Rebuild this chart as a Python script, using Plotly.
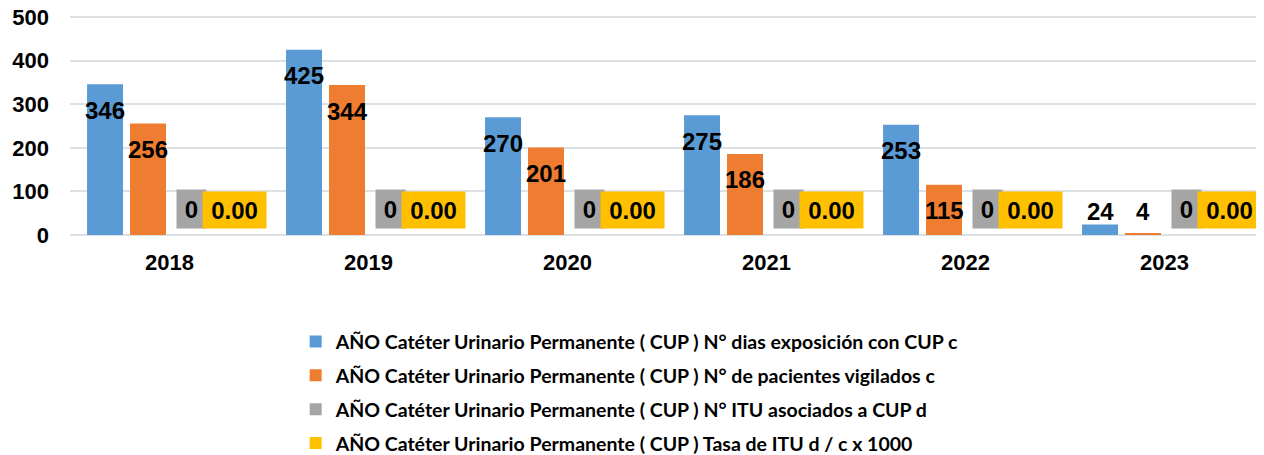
import plotly.graph_objects as go

# Datos
anios = ["2018", "2019", "2020", "2021", "2022", "2023"]
dias_exposicion = [346, 425, 270, 275, 253, 24]
pacientes_vigilados = [256, 344, 201, 186, 115, 4]
itu_asociados = [0, 0, 0, 0, 0, 0]
tasa_itu = [0.0, 0.0, 0.0, 0.0, 0.0, 0.0]
ticks_y = [0, 100, 200, 300, 400, 500]

prefijo = "AÑO Catéter Urinario Permanente ( CUP ) "
nombres = [
    prefijo + "N° dias exposición con CUP c",
    prefijo + "N° de pacientes vigilados c",
    prefijo + "N° ITU asociados a CUP d",
    prefijo + "Tasa de ITU d / c x 1000",
]
colores = ["#5B9BD5", "#EE7D31", "#A5A5A5", "#FFC000"]
series = [dias_exposicion, pacientes_vigilados, itu_asociados, tasa_itu]

fuente_num = "Liberation Sans, Arial, sans-serif"

fig = go.Figure()
for i, (nombre, vals, color) in enumerate(zip(nombres, series, colores)):
    fig.add_trace(go.Bar(
        x=anios, y=vals, name=nombre,
        marker=dict(color=color, line=dict(width=0)),
        legendgroup=str(i),
        hoverinfo="skip",
    ))

# Etiquetas de datos (x = índice de categoría, desplazadas por serie dentro del grupo)
desplaz = [-64.5, -21.5, 21.5, 64.5]
for j, anio in enumerate(anios):
    for i in range(2):
        v = series[i][j]
        if v > 100:
            y, ys = v, -26
        else:
            y, ys = 0, 24
        fig.add_annotation(
            x=j, y=y, xref="x", yref="y", text=str(v), showarrow=False,
            xshift=desplaz[i], yshift=ys,
            font=dict(family=fuente_num, size=24, color="black", weight="bold"),
        )
    # cajas de etiqueta para ITU (gris) y tasa (amarillo)
    fig.add_annotation(
        x=j, y=0, xref="x", yref="y", text=str(itu_asociados[j]),
        showarrow=False, xshift=21.5, yshift=26, width=29, height=38,
        bgcolor=colores[2], borderpad=0,
        font=dict(family=fuente_num, size=24, color="black", weight="bold"),
    )
    fig.add_annotation(
        x=j, y=0, xref="x", yref="y", text=f"{tasa_itu[j]:.2f}",
        showarrow=False, xshift=64.5, yshift=25, width=63, height=36,
        bgcolor=colores[3], borderpad=0,
        font=dict(family=fuente_num, size=24, color="black", weight="bold"),
    )

fig.update_layout(
    width=1264, height=455,
    margin=dict(l=62, r=8, t=6, b=228, autoexpand=False),
    paper_bgcolor="white", plot_bgcolor="white",
    barmode="group", bargap=0.136, bargroupgap=0.163,
    showlegend=True,
    legend=dict(
        x=0.189, xanchor="left", y=-0.395, yanchor="top",
        orientation="v", traceorder="grouped", tracegroupgap=5.5,
        font=dict(family="Lato, Liberation Sans, sans-serif", size=19.5,
                  color="black", weight="bold"),
        bgcolor="rgba(0,0,0,0)",
    ),
    font=dict(family=fuente_num),
)

fig.update_yaxes(
    range=[0, 507], tickmode="array", tickvals=ticks_y,
    showgrid=True, gridcolor="#DCE1E6", gridwidth=2,
    zeroline=True, zerolinecolor="#DCE1E6", zerolinewidth=2, showline=False,
    ticks="", ticklabelstandoff=20, ticklabeloverflow="allow",
    tickfont=dict(family=fuente_num, size=22, color="black", weight="bold"),
)
fig.update_xaxes(
    type="category", showgrid=False, showline=False, ticks="", ticklabelstandoff=12,
    tickfont=dict(family=fuente_num, size=22, color="black", weight="bold"),
)

fig.write_html("out.html")
